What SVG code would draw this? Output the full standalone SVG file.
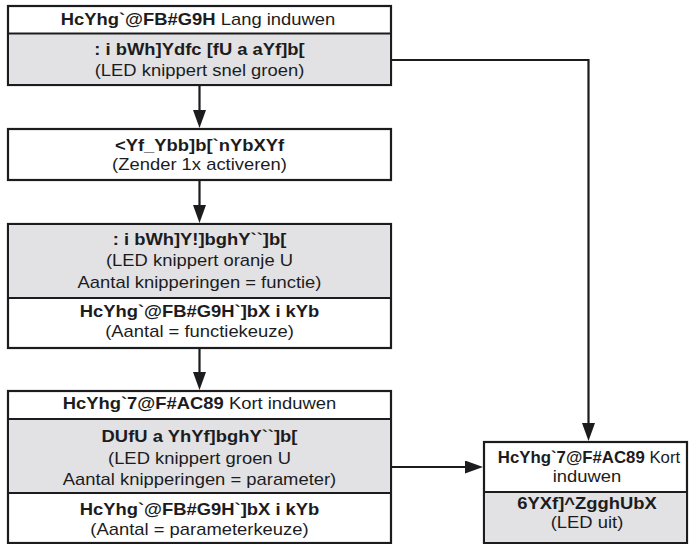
<svg xmlns="http://www.w3.org/2000/svg" width="691" height="544" viewBox="0 0 691 544">
<style>
.box{fill:#ffffff;stroke:#1c1c1e;stroke-width:2.2}
.gray{fill:#e2e2e4;stroke:none}
.div{stroke:#1c1c1e;stroke-width:1.8;fill:none}
.t{font-family:"Liberation Sans",Arial,sans-serif;font-size:16px;fill:#1c1c1e;text-anchor:middle}
.b{font-weight:bold}
.con{stroke:#1c1c1e;stroke-width:2.2;fill:none}
</style>
<defs>
<marker id="ah" markerUnits="userSpaceOnUse" markerWidth="20" markerHeight="14" refX="8" refY="6.5" orient="auto">
<path d="M0,0 L18,6.5 L0,13 z" fill="#1c1c1e"/>
</marker>
</defs>
<rect width="691" height="544" fill="#ffffff"/>

<g id="connectors">
<path class="con" d="M199.5,85 V118" marker-end="url(#ah)"/>
<path class="con" d="M199.5,180 V213" marker-end="url(#ah)"/>
<path class="con" d="M199.5,348 V380" marker-end="url(#ah)"/>
<path class="con" d="M391,60 H588.5 V431" marker-end="url(#ah)"/>
<path class="con" d="M392,467 H473" marker-end="url(#ah)"/>
</g>

<g id="n1">
<rect class="box" x="8" y="6" width="383" height="79"/>
<rect class="gray" x="9" y="34" width="381" height="50"/>
<line class="div" x1="8" y1="33.5" x2="391" y2="33.5"/>
<text class="t" transform="translate(198 0) scale(1.15 1)" y="25"><tspan class="b">HcYhg`@FB#G9H</tspan> Lang induwen</text>
<text class="t b" transform="translate(199.5 0) scale(1.15 1)" y="55">: i bWh]Ydfc [fU a aYf]b[</text>
<text class="t" transform="translate(199.5 0) scale(1.15 1)" y="76">(LED knippert snel groen)</text>
</g>

<g id="n2">
<rect class="box" x="8" y="129" width="383" height="51"/>
<text class="t b" transform="translate(199.5 0) scale(1.15 1)" y="151">&lt;Yf_Ybb]b[`nYbXYf</text>
<text class="t" transform="translate(199.5 0) scale(1.15 1)" y="170">(Zender 1x activeren)</text>
</g>

<g id="n3">
<rect class="box" x="8" y="224" width="383" height="124"/>
<rect class="gray" x="9" y="225" width="381" height="73"/>
<line class="div" x1="8" y1="298" x2="391" y2="298"/>
<text class="t b" transform="translate(199.5 0) scale(1.15 1)" y="245">: i bWh]Y!]bghY``]b[</text>
<text class="t" transform="translate(199.5 0) scale(1.15 1)" y="266">(LED knippert oranje U</text>
<text class="t" transform="translate(199.5 0) scale(1.15 1)" y="288">Aantal knipperingen = functie)</text>
<text class="t b" transform="translate(199.5 0) scale(1.15 1)" y="317">HcYhg`@FB#G9H`]bX i kYb</text>
<text class="t" transform="translate(199.5 0) scale(1.15 1)" y="337">(Aantal = functiekeuze)</text>
</g>

<g id="n4">
<rect class="box" x="8" y="391" width="383" height="152"/>
<rect class="gray" x="9" y="419" width="381" height="74"/>
<line class="div" x1="8" y1="419" x2="391" y2="419"/>
<line class="div" x1="8" y1="493" x2="391" y2="493"/>
<text class="t" transform="translate(199.5 0) scale(1.15 1)" y="409"><tspan class="b">HcYhg`7@F#AC89</tspan> Kort induwen</text>
<text class="t b" transform="translate(199.5 0) scale(1.15 1)" y="442">DUfU a YhYf]bghY``]b[</text>
<text class="t" transform="translate(199.5 0) scale(1.15 1)" y="464">(LED knippert groen U</text>
<text class="t" transform="translate(199.5 0) scale(1.15 1)" y="485">Aantal knipperingen = parameter)</text>
<text class="t b" transform="translate(199.5 0) scale(1.15 1)" y="515">HcYhg`@FB#G9H`]bX i kYb</text>
<text class="t" transform="translate(199.5 0) scale(1.15 1)" y="535">(Aantal = parameterkeuze)</text>
</g>

<g id="n5">
<rect class="box" x="484" y="442" width="203" height="101"/>
<rect class="gray" x="485" y="492" width="201" height="50"/>
<line class="div" x1="484" y1="492" x2="687" y2="492"/>
<text class="t" transform="translate(589 0) scale(1.05 1)" y="463"><tspan class="b">HcYhg`7@F#AC89</tspan> Kort</text>
<text class="t" transform="translate(587 0) scale(1.15 1)" y="482">induwen</text>
<text class="t b" transform="translate(587 0) scale(1.15 1)" y="509">6YXf]^ZgghUbX</text>
<text class="t" transform="translate(587 0) scale(1.15 1)" y="528">(LED uit)</text>
</g>
</svg>
